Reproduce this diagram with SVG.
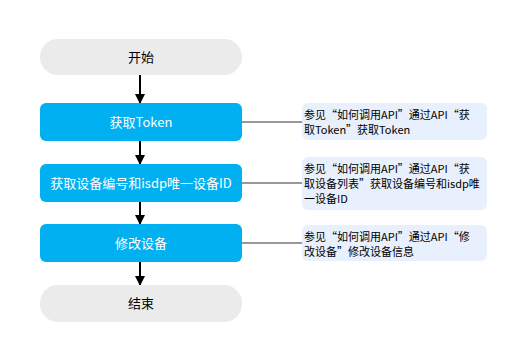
<svg xmlns="http://www.w3.org/2000/svg" width="525" height="360" viewBox="0 0 525 360">
<style>
.term{fill:#ebebeb}
.proc{fill:#00b0f0}
.note{fill:#e8effd}
.t{font-family:"Noto Sans CJK SC","Microsoft YaHei",sans-serif;font-size:13px;text-anchor:middle}
.tw{fill:#ffffff}
.tb{fill:#000000}
.n{font-family:"Noto Sans CJK SC","Microsoft YaHei",sans-serif;font-size:11px;fill:#000}
.arr{stroke:#000;stroke-width:2;fill:none;marker-end:url(#ah)}
.lnk{stroke:#999;stroke-width:2;fill:none}
</style>
<defs>
<marker id="ah" viewBox="0 0 10 10" refX="9" refY="5" markerWidth="5" markerHeight="5" markerUnits="strokeWidth" orient="auto">
<path d="M0,0 L10,5 L0,10 z" fill="#000"/>
</marker>
</defs>
<rect width="525" height="360" fill="#fff"/>
<g id="connectors">
<line class="arr" x1="140" y1="75" x2="140" y2="103"/>
<line class="arr" x1="140" y1="141" x2="140" y2="164"/>
<line class="arr" x1="140" y1="202" x2="140" y2="224"/>
<line class="arr" x1="140" y1="262" x2="140" y2="285"/>
<line class="lnk" x1="242" y1="122" x2="302" y2="122"/>
<line class="lnk" x1="242" y1="183" x2="302" y2="183"/>
<line class="lnk" x1="242" y1="243" x2="302" y2="243"/>
</g>
<g id="start">
<rect class="term" x="40" y="39" width="202" height="36" rx="18"/>
<text class="t tb" x="141" y="62">开始</text>
</g>
<g id="token">
<rect class="proc" x="40" y="103" width="202" height="38" rx="6"/>
<text class="t tw" x="141" y="127">获取Token</text>
</g>
<g id="getdev">
<rect class="proc" x="40" y="164" width="202" height="38" rx="6"/>
<text class="t tw" x="141" y="188">获取设备编号和isdp唯一设备ID</text>
</g>
<g id="moddev">
<rect class="proc" x="40" y="224" width="202" height="38" rx="6"/>
<text class="t tw" x="141" y="248">修改设备</text>
</g>
<g id="end">
<rect class="term" x="40" y="285" width="202" height="37" rx="18"/>
<text class="t tb" x="141" y="308">结束</text>
</g>
<g id="note1">
<rect class="note" x="302" y="103" width="185" height="37" rx="6"/>
<text class="n" x="304" y="119">参见“如何调用API”通过API“获</text>
<text class="n" x="304" y="134">取Token”获取Token</text>
</g>
<g id="note2">
<rect class="note" x="302" y="157" width="185" height="53" rx="6"/>
<text class="n" x="304" y="173">参见“如何调用API”通过API“获</text>
<text class="n" x="304" y="188">取设备列表”获取设备编号和isdp唯</text>
<text class="n" x="304" y="203">一设备ID</text>
</g>
<g id="note3">
<rect class="note" x="302" y="225" width="185" height="36" rx="6"/>
<text class="n" x="304" y="241">参见“如何调用API”通过API“修</text>
<text class="n" x="304" y="256">改设备”修改设备信息</text>
</g>
</svg>
